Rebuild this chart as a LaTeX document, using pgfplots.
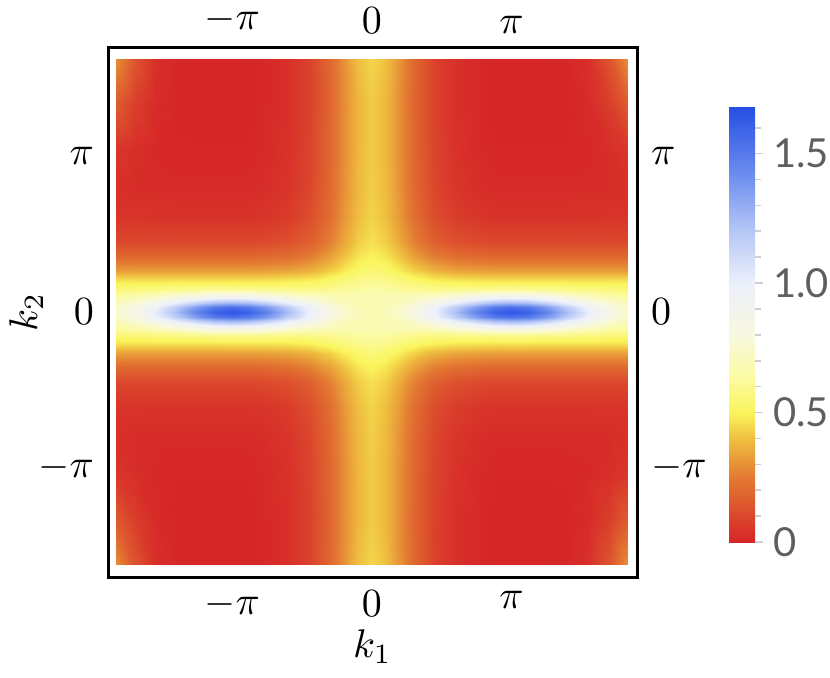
\documentclass[border=0pt]{standalone}
\usepackage{pgfplots}
\pgfplotsset{compat=1.18}
\usepackage{fontspec}
\newfontfamily\cbfont{Lato}
\definecolor{cbgray}{RGB}{95,95,95}

\pgfplotsset{
  kframe/.style={
    width=132.25pt, height=132.5pt, scale only axis,
    xmin=-1.89, xmax=1.9, ymin=-1.70, ymax=1.70,
    xtick={-1,0,1}, ytick={-1,0,1},
    xticklabels={$-\pi$,$0$,$\pi$}, yticklabels={$-\pi$,$0$,$\pi$},
    major tick length=0pt, minor tick num=0,
  },
}

\begin{document}
\begin{tikzpicture}
\begin{axis}[kframe, name=main,
  axis line style={line width=0.75pt},
  axis on top,
  xlabel={$k_1$}, ylabel={$k_2$},
  xlabel shift=-4pt, ylabel shift=-8pt,
  colormap={dens}{rgb255(0pt)=(214,38,40) rgb255(25pt)=(227,122,50) rgb255(40pt)=(239,192,64) rgb255(50pt)=(250,245,92) rgb255(65pt)=(251,251,168) rgb255(80pt)=(248,248,224) rgb255(100pt)=(236,240,251) rgb255(120pt)=(182,199,246) rgb255(140pt)=(114,146,239) rgb255(168pt)=(38,78,228)},
  point meta min=0, point meta max=1.68,
  colorbar,
  colorbar style={
    at={(parent axis.south west)}, anchor=south west,
    xshift=146.75pt, yshift=8.75pt,
    width=6.5pt, height=108.75pt, scale only axis,
    axis line style={draw=none},
    ytick={0,0.5,1,1.5}, yticklabels={0,0.5,1.0,1.5},
    minor ytick={0.1,0.2,0.3,0.4,0.6,0.7,0.8,0.9,1.1,1.2,1.3,1.4,1.6},
    ytick pos=right, yticklabel pos=right, tick align=outside,
    major tick length=2pt, minor tick length=1.5pt,
    tick style={cbgray!30, line width=0.4pt},
    yticklabel style={font=\cbfont, text=cbgray, xshift=-1pt},
  },
]
\addplot[surf, shader=interp, mesh/cols=29, mesh/rows=27, point meta=explicit] table[row sep=\\, x=x, y=y, meta=z] {
x y z\\
-1.83 -1.62 0.30\\-1.7 -1.62 0.135\\-1.55 -1.62 0.03\\-1.4 -1.62 0.003\\-1.25 -1.62 0\\-1.12 -1.62 0\\-1 -1.62 0\\-0.88 -1.62 0\\-0.75 -1.62 0.01\\-0.6 -1.62 0.03\\-0.45 -1.62 0.08\\-0.3 -1.62 0.195\\-0.2 -1.62 0.30\\-0.1 -1.62 0.40\\0 -1.62 0.44\\0.1 -1.62 0.40\\0.2 -1.62 0.30\\0.3 -1.62 0.195\\0.45 -1.62 0.08\\0.6 -1.62 0.03\\0.75 -1.62 0.01\\0.88 -1.62 0\\1 -1.62 0\\1.12 -1.62 0\\1.25 -1.62 0\\1.4 -1.62 0.003\\1.55 -1.62 0.03\\1.7 -1.62 0.135\\1.83 -1.62 0.30\\
-1.83 -1.35 0.165\\-1.7 -1.35 0.074\\-1.55 -1.35 0.017\\-1.4 -1.35 0.002\\-1.25 -1.35 0\\-1.12 -1.35 0\\-1 -1.35 0\\-0.88 -1.35 0\\-0.75 -1.35 0.01\\-0.6 -1.35 0.03\\-0.45 -1.35 0.08\\-0.3 -1.35 0.19\\-0.2 -1.35 0.29\\-0.1 -1.35 0.38\\0 -1.35 0.42\\0.1 -1.35 0.38\\0.2 -1.35 0.29\\0.3 -1.35 0.19\\0.45 -1.35 0.08\\0.6 -1.35 0.03\\0.75 -1.35 0.01\\0.88 -1.35 0\\1 -1.35 0\\1.12 -1.35 0\\1.25 -1.35 0\\1.4 -1.35 0.002\\1.55 -1.35 0.017\\1.7 -1.35 0.074\\1.83 -1.35 0.165\\
-1.83 -1.05 0.05\\-1.7 -1.05 0.025\\-1.55 -1.05 0.010\\-1.4 -1.05 0.005\\-1.25 -1.05 0.005\\-1.12 -1.05 0.005\\-1 -1.05 0.005\\-0.88 -1.05 0.005\\-0.75 -1.05 0.015\\-0.6 -1.05 0.035\\-0.45 -1.05 0.084\\-0.3 -1.05 0.194\\-0.2 -1.05 0.293\\-0.1 -1.05 0.382\\0 -1.05 0.422\\0.1 -1.05 0.382\\0.2 -1.05 0.293\\0.3 -1.05 0.194\\0.45 -1.05 0.084\\0.6 -1.05 0.035\\0.75 -1.05 0.015\\0.88 -1.05 0.005\\1 -1.05 0.005\\1.12 -1.05 0.005\\1.25 -1.05 0.005\\1.4 -1.05 0.005\\1.55 -1.05 0.010\\1.7 -1.05 0.025\\1.83 -1.05 0.05\\
-1.83 -0.8 0.027\\-1.7 -0.8 0.020\\-1.55 -0.8 0.016\\-1.4 -0.8 0.015\\-1.25 -0.8 0.015\\-1.12 -0.8 0.015\\-1 -0.8 0.015\\-0.88 -0.8 0.015\\-0.75 -0.8 0.025\\-0.6 -0.8 0.044\\-0.45 -0.8 0.093\\-0.3 -0.8 0.201\\-0.2 -0.8 0.299\\-0.1 -0.8 0.387\\0 -0.8 0.426\\0.1 -0.8 0.387\\0.2 -0.8 0.299\\0.3 -0.8 0.201\\0.45 -0.8 0.093\\0.6 -0.8 0.044\\0.75 -0.8 0.025\\0.88 -0.8 0.015\\1 -0.8 0.015\\1.12 -0.8 0.015\\1.25 -0.8 0.015\\1.4 -0.8 0.015\\1.55 -0.8 0.016\\1.7 -0.8 0.020\\1.83 -0.8 0.027\\
-1.83 -0.6 0.043\\-1.7 -0.6 0.042\\-1.55 -0.6 0.041\\-1.4 -0.6 0.04\\-1.25 -0.6 0.04\\-1.12 -0.6 0.04\\-1 -0.6 0.04\\-0.88 -0.6 0.04\\-0.75 -0.6 0.049\\-0.6 -0.6 0.068\\-0.45 -0.6 0.115\\-0.3 -0.6 0.219\\-0.2 -0.6 0.313\\-0.1 -0.6 0.398\\0 -0.6 0.436\\0.1 -0.6 0.398\\0.2 -0.6 0.313\\0.3 -0.6 0.219\\0.45 -0.6 0.115\\0.6 -0.6 0.068\\0.75 -0.6 0.049\\0.88 -0.6 0.04\\1 -0.6 0.04\\1.12 -0.6 0.04\\1.25 -0.6 0.04\\1.4 -0.6 0.04\\1.55 -0.6 0.041\\1.7 -0.6 0.042\\1.83 -0.6 0.043\\
-1.83 -0.45 0.102\\-1.7 -0.45 0.101\\-1.55 -0.45 0.1\\-1.4 -0.45 0.1\\-1.25 -0.45 0.1\\-1.12 -0.45 0.1\\-1 -0.45 0.1\\-0.88 -0.45 0.1\\-0.75 -0.45 0.109\\-0.6 -0.45 0.126\\-0.45 -0.45 0.169\\-0.3 -0.45 0.263\\-0.2 -0.45 0.349\\-0.1 -0.45 0.426\\0 -0.45 0.46\\0.1 -0.45 0.426\\0.2 -0.45 0.349\\0.3 -0.45 0.263\\0.45 -0.45 0.169\\0.6 -0.45 0.126\\0.75 -0.45 0.109\\0.88 -0.45 0.1\\1 -0.45 0.1\\1.12 -0.45 0.1\\1.25 -0.45 0.1\\1.4 -0.45 0.1\\1.55 -0.45 0.1\\1.7 -0.45 0.101\\1.83 -0.45 0.102\\
-1.83 -0.35 0.201\\-1.7 -0.35 0.2\\-1.55 -0.35 0.2\\-1.4 -0.35 0.2\\-1.25 -0.35 0.2\\-1.12 -0.35 0.2\\-1 -0.35 0.2\\-0.88 -0.35 0.2\\-0.75 -0.35 0.207\\-0.6 -0.35 0.221\\-0.45 -0.35 0.257\\-0.3 -0.35 0.336\\-0.2 -0.35 0.407\\-0.1 -0.35 0.471\\0 -0.35 0.500\\0.1 -0.35 0.471\\0.2 -0.35 0.407\\0.3 -0.35 0.336\\0.45 -0.35 0.257\\0.6 -0.35 0.221\\0.75 -0.35 0.207\\0.88 -0.35 0.2\\1 -0.35 0.2\\1.12 -0.35 0.2\\1.25 -0.35 0.2\\1.4 -0.35 0.2\\1.55 -0.35 0.2\\1.7 -0.35 0.2\\1.83 -0.35 0.201\\
-1.83 -0.27 0.32\\-1.7 -0.27 0.32\\-1.55 -0.27 0.32\\-1.4 -0.27 0.32\\-1.25 -0.27 0.32\\-1.12 -0.27 0.32\\-1 -0.27 0.32\\-0.88 -0.27 0.32\\-0.75 -0.27 0.325\\-0.6 -0.27 0.336\\-0.45 -0.27 0.363\\-0.3 -0.27 0.423\\-0.2 -0.27 0.477\\-0.1 -0.27 0.526\\0 -0.27 0.548\\0.1 -0.27 0.526\\0.2 -0.27 0.477\\0.3 -0.27 0.423\\0.45 -0.27 0.363\\0.6 -0.27 0.336\\0.75 -0.27 0.325\\0.88 -0.27 0.32\\1 -0.27 0.32\\1.12 -0.27 0.32\\1.25 -0.27 0.32\\1.4 -0.27 0.32\\1.55 -0.27 0.32\\1.7 -0.27 0.32\\1.83 -0.27 0.32\\
-1.83 -0.2 0.471\\-1.7 -0.2 0.471\\-1.55 -0.2 0.472\\-1.4 -0.2 0.473\\-1.25 -0.2 0.475\\-1.12 -0.2 0.475\\-1 -0.2 0.476\\-0.88 -0.2 0.475\\-0.75 -0.2 0.478\\-0.6 -0.2 0.483\\-0.45 -0.2 0.498\\-0.3 -0.2 0.534\\-0.2 -0.2 0.566\\-0.1 -0.2 0.595\\0 -0.2 0.608\\0.1 -0.2 0.595\\0.2 -0.2 0.566\\0.3 -0.2 0.534\\0.45 -0.2 0.498\\0.6 -0.2 0.483\\0.75 -0.2 0.478\\0.88 -0.2 0.475\\1 -0.2 0.476\\1.12 -0.2 0.475\\1.25 -0.2 0.475\\1.4 -0.2 0.473\\1.55 -0.2 0.472\\1.7 -0.2 0.471\\1.83 -0.2 0.471\\
-1.83 -0.15 0.555\\-1.7 -0.15 0.561\\-1.55 -0.15 0.570\\-1.4 -0.15 0.582\\-1.25 -0.15 0.594\\-1.12 -0.15 0.602\\-1 -0.15 0.605\\-0.88 -0.15 0.602\\-0.75 -0.15 0.596\\-0.6 -0.15 0.588\\-0.45 -0.15 0.587\\-0.3 -0.15 0.602\\-0.2 -0.15 0.619\\-0.1 -0.15 0.636\\0 -0.15 0.644\\0.1 -0.15 0.636\\0.2 -0.15 0.619\\0.3 -0.15 0.602\\0.45 -0.15 0.587\\0.6 -0.15 0.588\\0.75 -0.15 0.596\\0.88 -0.15 0.602\\1 -0.15 0.605\\1.12 -0.15 0.602\\1.25 -0.15 0.594\\1.4 -0.15 0.582\\1.55 -0.15 0.570\\1.7 -0.15 0.561\\1.83 -0.15 0.555\\
-1.83 -0.1 0.635\\-1.7 -0.1 0.664\\-1.55 -0.1 0.711\\-1.4 -0.1 0.772\\-1.25 -0.1 0.834\\-1.12 -0.1 0.872\\-1 -0.1 0.885\\-0.88 -0.1 0.872\\-0.75 -0.1 0.835\\-0.6 -0.1 0.776\\-0.45 -0.1 0.721\\-0.3 -0.1 0.691\\-0.2 -0.1 0.682\\-0.1 -0.1 0.683\\0 -0.1 0.684\\0.1 -0.1 0.683\\0.2 -0.1 0.682\\0.3 -0.1 0.691\\0.45 -0.1 0.721\\0.6 -0.1 0.776\\0.75 -0.1 0.835\\0.88 -0.1 0.872\\1 -0.1 0.885\\1.12 -0.1 0.872\\1.25 -0.1 0.834\\1.4 -0.1 0.772\\1.55 -0.1 0.711\\1.7 -0.1 0.664\\1.83 -0.1 0.635\\
-1.83 -0.06 0.698\\-1.7 -0.06 0.764\\-1.55 -0.06 0.871\\-1.4 -0.06 1.010\\-1.25 -0.06 1.151\\-1.12 -0.06 1.239\\-1 -0.06 1.268\\-0.88 -0.06 1.239\\-0.75 -0.06 1.151\\-0.6 -0.06 1.011\\-0.45 -0.06 0.874\\-0.3 -0.06 0.75\\-0.2 -0.06 0.70\\-0.1 -0.06 0.68\\0 -0.06 0.67\\0.1 -0.06 0.68\\0.2 -0.06 0.70\\0.3 -0.06 0.75\\0.45 -0.06 0.874\\0.6 -0.06 1.011\\0.75 -0.06 1.151\\0.88 -0.06 1.239\\1 -0.06 1.268\\1.12 -0.06 1.239\\1.25 -0.06 1.151\\1.4 -0.06 1.010\\1.55 -0.06 0.871\\1.7 -0.06 0.764\\1.83 -0.06 0.698\\
-1.83 -0.03 0.730\\-1.7 -0.03 0.824\\-1.55 -0.03 0.976\\-1.4 -0.03 1.172\\-1.25 -0.03 1.372\\-1.12 -0.03 1.497\\-1 -0.03 1.538\\-0.88 -0.03 1.497\\-0.75 -0.03 1.372\\-0.6 -0.03 1.173\\-0.45 -0.03 0.979\\-0.3 -0.03 0.81\\-0.2 -0.03 0.735\\-0.1 -0.03 0.69\\0 -0.03 0.675\\0.1 -0.03 0.69\\0.2 -0.03 0.735\\0.3 -0.03 0.81\\0.45 -0.03 0.979\\0.6 -0.03 1.173\\0.75 -0.03 1.372\\0.88 -0.03 1.497\\1 -0.03 1.538\\1.12 -0.03 1.497\\1.25 -0.03 1.372\\1.4 -0.03 1.172\\1.55 -0.03 0.976\\1.7 -0.03 0.824\\1.83 -0.03 0.730\\
-1.83 0 0.742\\-1.7 0 0.848\\-1.55 0 1.018\\-1.4 0 1.239\\-1.25 0 1.463\\-1.12 0 1.604\\-1 0 1.65\\-0.88 0 1.604\\-0.75 0 1.463\\-0.6 0 1.24\\-0.45 0 1.0\\-0.3 0 0.83\\-0.2 0 0.75\\-0.1 0 0.70\\0 0 0.68\\0.1 0 0.70\\0.2 0 0.75\\0.3 0 0.83\\0.45 0 1.0\\0.6 0 1.24\\0.75 0 1.463\\0.88 0 1.604\\1 0 1.65\\1.12 0 1.604\\1.25 0 1.463\\1.4 0 1.239\\1.55 0 1.018\\1.7 0 0.848\\1.83 0 0.742\\
-1.83 0.03 0.730\\-1.7 0.03 0.824\\-1.55 0.03 0.976\\-1.4 0.03 1.172\\-1.25 0.03 1.372\\-1.12 0.03 1.497\\-1 0.03 1.538\\-0.88 0.03 1.497\\-0.75 0.03 1.372\\-0.6 0.03 1.173\\-0.45 0.03 0.979\\-0.3 0.03 0.81\\-0.2 0.03 0.735\\-0.1 0.03 0.69\\0 0.03 0.675\\0.1 0.03 0.69\\0.2 0.03 0.735\\0.3 0.03 0.81\\0.45 0.03 0.979\\0.6 0.03 1.173\\0.75 0.03 1.372\\0.88 0.03 1.497\\1 0.03 1.538\\1.12 0.03 1.497\\1.25 0.03 1.372\\1.4 0.03 1.172\\1.55 0.03 0.976\\1.7 0.03 0.824\\1.83 0.03 0.730\\
-1.83 0.06 0.698\\-1.7 0.06 0.764\\-1.55 0.06 0.871\\-1.4 0.06 1.010\\-1.25 0.06 1.151\\-1.12 0.06 1.239\\-1 0.06 1.268\\-0.88 0.06 1.239\\-0.75 0.06 1.151\\-0.6 0.06 1.011\\-0.45 0.06 0.874\\-0.3 0.06 0.75\\-0.2 0.06 0.70\\-0.1 0.06 0.68\\0 0.06 0.67\\0.1 0.06 0.68\\0.2 0.06 0.70\\0.3 0.06 0.75\\0.45 0.06 0.874\\0.6 0.06 1.011\\0.75 0.06 1.151\\0.88 0.06 1.239\\1 0.06 1.268\\1.12 0.06 1.239\\1.25 0.06 1.151\\1.4 0.06 1.010\\1.55 0.06 0.871\\1.7 0.06 0.764\\1.83 0.06 0.698\\
-1.83 0.1 0.635\\-1.7 0.1 0.664\\-1.55 0.1 0.711\\-1.4 0.1 0.772\\-1.25 0.1 0.834\\-1.12 0.1 0.872\\-1 0.1 0.885\\-0.88 0.1 0.872\\-0.75 0.1 0.835\\-0.6 0.1 0.776\\-0.45 0.1 0.721\\-0.3 0.1 0.691\\-0.2 0.1 0.682\\-0.1 0.1 0.683\\0 0.1 0.684\\0.1 0.1 0.683\\0.2 0.1 0.682\\0.3 0.1 0.691\\0.45 0.1 0.721\\0.6 0.1 0.776\\0.75 0.1 0.835\\0.88 0.1 0.872\\1 0.1 0.885\\1.12 0.1 0.872\\1.25 0.1 0.834\\1.4 0.1 0.772\\1.55 0.1 0.711\\1.7 0.1 0.664\\1.83 0.1 0.635\\
-1.83 0.15 0.555\\-1.7 0.15 0.561\\-1.55 0.15 0.570\\-1.4 0.15 0.582\\-1.25 0.15 0.594\\-1.12 0.15 0.602\\-1 0.15 0.605\\-0.88 0.15 0.602\\-0.75 0.15 0.596\\-0.6 0.15 0.588\\-0.45 0.15 0.587\\-0.3 0.15 0.602\\-0.2 0.15 0.619\\-0.1 0.15 0.636\\0 0.15 0.644\\0.1 0.15 0.636\\0.2 0.15 0.619\\0.3 0.15 0.602\\0.45 0.15 0.587\\0.6 0.15 0.588\\0.75 0.15 0.596\\0.88 0.15 0.602\\1 0.15 0.605\\1.12 0.15 0.602\\1.25 0.15 0.594\\1.4 0.15 0.582\\1.55 0.15 0.570\\1.7 0.15 0.561\\1.83 0.15 0.555\\
-1.83 0.2 0.471\\-1.7 0.2 0.471\\-1.55 0.2 0.472\\-1.4 0.2 0.473\\-1.25 0.2 0.475\\-1.12 0.2 0.475\\-1 0.2 0.476\\-0.88 0.2 0.475\\-0.75 0.2 0.478\\-0.6 0.2 0.483\\-0.45 0.2 0.498\\-0.3 0.2 0.534\\-0.2 0.2 0.566\\-0.1 0.2 0.595\\0 0.2 0.608\\0.1 0.2 0.595\\0.2 0.2 0.566\\0.3 0.2 0.534\\0.45 0.2 0.498\\0.6 0.2 0.483\\0.75 0.2 0.478\\0.88 0.2 0.475\\1 0.2 0.476\\1.12 0.2 0.475\\1.25 0.2 0.475\\1.4 0.2 0.473\\1.55 0.2 0.472\\1.7 0.2 0.471\\1.83 0.2 0.471\\
-1.83 0.27 0.32\\-1.7 0.27 0.32\\-1.55 0.27 0.32\\-1.4 0.27 0.32\\-1.25 0.27 0.32\\-1.12 0.27 0.32\\-1 0.27 0.32\\-0.88 0.27 0.32\\-0.75 0.27 0.325\\-0.6 0.27 0.336\\-0.45 0.27 0.363\\-0.3 0.27 0.423\\-0.2 0.27 0.477\\-0.1 0.27 0.526\\0 0.27 0.548\\0.1 0.27 0.526\\0.2 0.27 0.477\\0.3 0.27 0.423\\0.45 0.27 0.363\\0.6 0.27 0.336\\0.75 0.27 0.325\\0.88 0.27 0.32\\1 0.27 0.32\\1.12 0.27 0.32\\1.25 0.27 0.32\\1.4 0.27 0.32\\1.55 0.27 0.32\\1.7 0.27 0.32\\1.83 0.27 0.32\\
-1.83 0.35 0.201\\-1.7 0.35 0.2\\-1.55 0.35 0.2\\-1.4 0.35 0.2\\-1.25 0.35 0.2\\-1.12 0.35 0.2\\-1 0.35 0.2\\-0.88 0.35 0.2\\-0.75 0.35 0.207\\-0.6 0.35 0.221\\-0.45 0.35 0.257\\-0.3 0.35 0.336\\-0.2 0.35 0.407\\-0.1 0.35 0.471\\0 0.35 0.500\\0.1 0.35 0.471\\0.2 0.35 0.407\\0.3 0.35 0.336\\0.45 0.35 0.257\\0.6 0.35 0.221\\0.75 0.35 0.207\\0.88 0.35 0.2\\1 0.35 0.2\\1.12 0.35 0.2\\1.25 0.35 0.2\\1.4 0.35 0.2\\1.55 0.35 0.2\\1.7 0.35 0.2\\1.83 0.35 0.201\\
-1.83 0.45 0.102\\-1.7 0.45 0.101\\-1.55 0.45 0.1\\-1.4 0.45 0.1\\-1.25 0.45 0.1\\-1.12 0.45 0.1\\-1 0.45 0.1\\-0.88 0.45 0.1\\-0.75 0.45 0.109\\-0.6 0.45 0.126\\-0.45 0.45 0.169\\-0.3 0.45 0.263\\-0.2 0.45 0.349\\-0.1 0.45 0.426\\0 0.45 0.46\\0.1 0.45 0.426\\0.2 0.45 0.349\\0.3 0.45 0.263\\0.45 0.45 0.169\\0.6 0.45 0.126\\0.75 0.45 0.109\\0.88 0.45 0.1\\1 0.45 0.1\\1.12 0.45 0.1\\1.25 0.45 0.1\\1.4 0.45 0.1\\1.55 0.45 0.1\\1.7 0.45 0.101\\1.83 0.45 0.102\\
-1.83 0.6 0.043\\-1.7 0.6 0.042\\-1.55 0.6 0.041\\-1.4 0.6 0.04\\-1.25 0.6 0.04\\-1.12 0.6 0.04\\-1 0.6 0.04\\-0.88 0.6 0.04\\-0.75 0.6 0.049\\-0.6 0.6 0.068\\-0.45 0.6 0.115\\-0.3 0.6 0.219\\-0.2 0.6 0.313\\-0.1 0.6 0.398\\0 0.6 0.436\\0.1 0.6 0.398\\0.2 0.6 0.313\\0.3 0.6 0.219\\0.45 0.6 0.115\\0.6 0.6 0.068\\0.75 0.6 0.049\\0.88 0.6 0.04\\1 0.6 0.04\\1.12 0.6 0.04\\1.25 0.6 0.04\\1.4 0.6 0.04\\1.55 0.6 0.041\\1.7 0.6 0.042\\1.83 0.6 0.043\\
-1.83 0.8 0.027\\-1.7 0.8 0.020\\-1.55 0.8 0.016\\-1.4 0.8 0.015\\-1.25 0.8 0.015\\-1.12 0.8 0.015\\-1 0.8 0.015\\-0.88 0.8 0.015\\-0.75 0.8 0.025\\-0.6 0.8 0.044\\-0.45 0.8 0.093\\-0.3 0.8 0.201\\-0.2 0.8 0.299\\-0.1 0.8 0.387\\0 0.8 0.426\\0.1 0.8 0.387\\0.2 0.8 0.299\\0.3 0.8 0.201\\0.45 0.8 0.093\\0.6 0.8 0.044\\0.75 0.8 0.025\\0.88 0.8 0.015\\1 0.8 0.015\\1.12 0.8 0.015\\1.25 0.8 0.015\\1.4 0.8 0.015\\1.55 0.8 0.016\\1.7 0.8 0.020\\1.83 0.8 0.027\\
-1.83 1.05 0.05\\-1.7 1.05 0.025\\-1.55 1.05 0.010\\-1.4 1.05 0.005\\-1.25 1.05 0.005\\-1.12 1.05 0.005\\-1 1.05 0.005\\-0.88 1.05 0.005\\-0.75 1.05 0.015\\-0.6 1.05 0.035\\-0.45 1.05 0.084\\-0.3 1.05 0.194\\-0.2 1.05 0.293\\-0.1 1.05 0.382\\0 1.05 0.422\\0.1 1.05 0.382\\0.2 1.05 0.293\\0.3 1.05 0.194\\0.45 1.05 0.084\\0.6 1.05 0.035\\0.75 1.05 0.015\\0.88 1.05 0.005\\1 1.05 0.005\\1.12 1.05 0.005\\1.25 1.05 0.005\\1.4 1.05 0.005\\1.55 1.05 0.010\\1.7 1.05 0.025\\1.83 1.05 0.05\\
-1.83 1.35 0.165\\-1.7 1.35 0.074\\-1.55 1.35 0.017\\-1.4 1.35 0.002\\-1.25 1.35 0\\-1.12 1.35 0\\-1 1.35 0\\-0.88 1.35 0\\-0.75 1.35 0.01\\-0.6 1.35 0.03\\-0.45 1.35 0.08\\-0.3 1.35 0.19\\-0.2 1.35 0.29\\-0.1 1.35 0.38\\0 1.35 0.42\\0.1 1.35 0.38\\0.2 1.35 0.29\\0.3 1.35 0.19\\0.45 1.35 0.08\\0.6 1.35 0.03\\0.75 1.35 0.01\\0.88 1.35 0\\1 1.35 0\\1.12 1.35 0\\1.25 1.35 0\\1.4 1.35 0.002\\1.55 1.35 0.017\\1.7 1.35 0.074\\1.83 1.35 0.165\\
-1.83 1.62 0.30\\-1.7 1.62 0.135\\-1.55 1.62 0.03\\-1.4 1.62 0.003\\-1.25 1.62 0\\-1.12 1.62 0\\-1 1.62 0\\-0.88 1.62 0\\-0.75 1.62 0.01\\-0.6 1.62 0.03\\-0.45 1.62 0.08\\-0.3 1.62 0.195\\-0.2 1.62 0.30\\-0.1 1.62 0.40\\0 1.62 0.44\\0.1 1.62 0.40\\0.2 1.62 0.30\\0.3 1.62 0.195\\0.45 1.62 0.08\\0.6 1.62 0.03\\0.75 1.62 0.01\\0.88 1.62 0\\1 1.62 0\\1.12 1.62 0\\1.25 1.62 0\\1.4 1.62 0.003\\1.55 1.62 0.03\\1.7 1.62 0.135\\1.83 1.62 0.30\\
};
\end{axis}
\begin{axis}[kframe, at={(main.south west)}, anchor=south west,
  xticklabel pos=upper, yticklabel pos=right,
  xticklabel style={inner sep=1pt, yshift=2.3pt},
  axis line style={draw=none}]
\end{axis}
\pgfresetboundingbox
\path ([shift={(-27pt,-25pt)}]main.south west) rectangle ([shift={(180.5pt,144.25pt)}]main.south west);
\end{tikzpicture}
\end{document}
